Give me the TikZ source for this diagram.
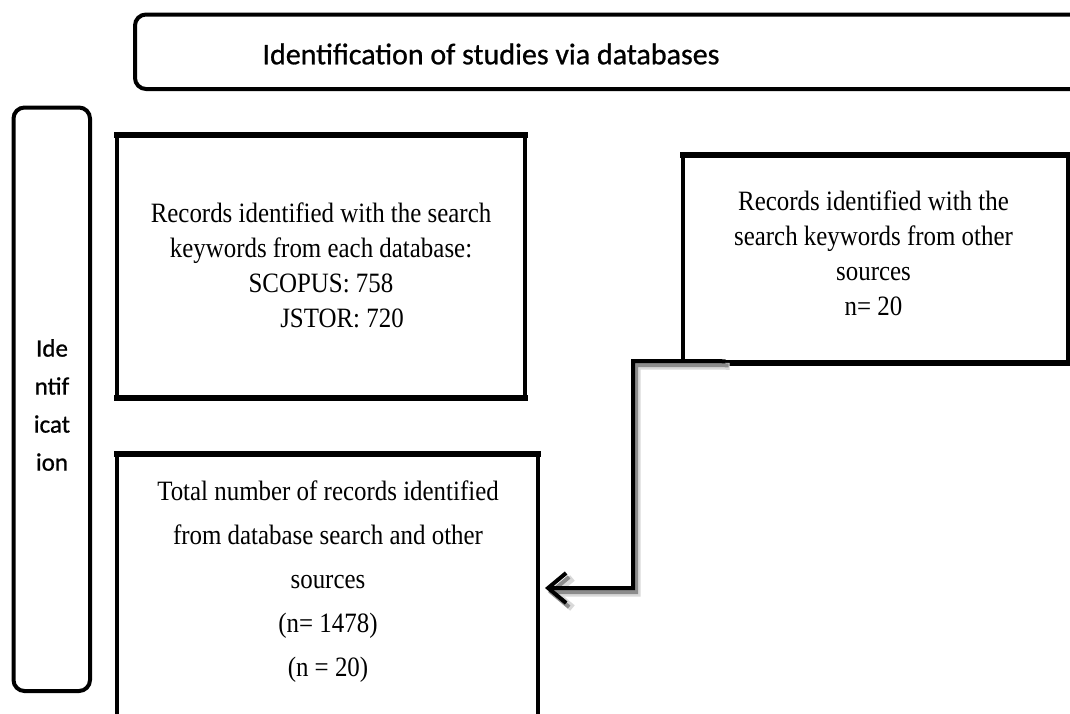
\documentclass[tikz,border=0pt]{standalone}
\usepackage{fontspec}
\setmainfont{Liberation Serif}[FakeStretch=0.89]
\newfontfamily\calib{Carlito}[FakeBold=0.8]
\usetikzlibrary{arrows.meta,calc}
\begin{document}
\begin{tikzpicture}[x=1pt,y=-1pt,
  frame/.style={draw=black, line width=4pt, outer sep=0pt, inner sep=0pt, rectangle},
  rframe/.style={draw=black, line width=4pt, rounded corners=11pt},
  thickedge/.style={line width=6pt, line cap=rect},
  boxtext/.style={align=center, inner sep=0pt, font=\fontsize{28}{35}\selectfont},
  sidetext/.style={align=center, inner sep=0pt, font=\calib\fontsize{25}{38}\selectfont},
  bannertext/.style={inner sep=0pt, font=\calib\fontsize{30}{36}\selectfont},
  conn/.style={line width=4pt, -{Straight Barb[length=18pt,width=30pt]}},
  shadowA/.style={line width=7pt, draw=black!15, -{Straight Barb[length=18pt,width=30pt]}},
  shadowB/.style={line width=4pt, draw=black!45, -{Straight Barb[length=18pt,width=30pt]}}
]
\useasboundingbox (0,0) rectangle (1070,713);
\fill[white] (0,0) rectangle (1070,713);

% banner
\draw[rframe] (1100,14.5) -- (135,14.5) -- (135,89) -- (1100,89);
\node[bannertext] (banner) at (491,54) {Identification of studies via databases};

% side bar
\draw[rframe] (13.5,107.5) rectangle (90,691);
\node[sidetext] (side) at (52,405) {Ide\\ntif\\icat\\ion};

% boxes
\node[frame, minimum width=408, minimum height=263] (b1) at (321,266.5) {};
\node[frame, minimum width=385, minimum height=208.5] (b2) at (875,259) {};
\node[frame, minimum width=421, minimum height=276.5] (b3) at (327.5,591.75) {};
\foreach \b in {b1,b2,b3}{
  \draw[thickedge] (\b.north west) -- (\b.north east);
  \draw[thickedge] (\b.south west) -- (\b.south east);
}

\node[boxtext] (t1) at (321,265) {Records identified with the search\\keywords from each database:\\SCOPUS: 758\\\hspace*{42pt}JSTOR: 720};
\node[boxtext] (t2) at (873.5,253) {Records identified with the\\search keywords from other\\sources\\n= 20};
\node[boxtext, font=\fontsize{28}{44}\selectfont] (t3) at (328,582) {Total number of records  identified\\from database search and other\\sources\\(n= 1478)\\(n = 20)};

% connector
\coordinate (c0) at ($(b2.south west)+(43,-2)$);
\coordinate (bend) at (633,361);
\coordinate (tip) at (545,588);
\draw[shadowA] ($(c0)+(4,5)$) -- ($(bend)+(4,5)$) |- ($(tip)+(4,5)$);
\draw[shadowB] ($(c0)+(3,4)$) -- ($(bend)+(3,4)$) |- ($(tip)+(3,4)$);
\draw[conn] (c0) -- (bend) |- (tip);
\end{tikzpicture}
\end{document}
